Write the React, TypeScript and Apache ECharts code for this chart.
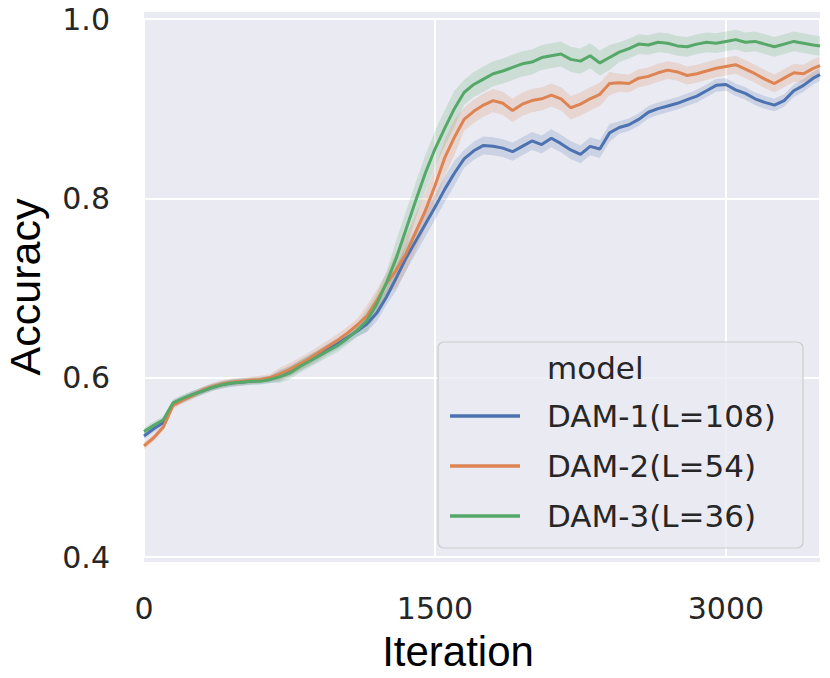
import React, { useEffect, useRef } from "react";
import * as echarts from "echarts";

const iterations = [
  0, 50, 100, 150, 200, 250, 300, 350, 400, 450,
  500, 550, 600, 650, 700, 750, 800, 850, 900, 950,
  1000, 1050, 1100, 1150, 1200, 1250, 1300, 1350, 1400, 1450,
  1500, 1550, 1600, 1650, 1700, 1750, 1800, 1850, 1900, 1950,
  2000, 2050, 2100, 2150, 2200, 2250, 2300, 2350, 2400, 2450,
  2500, 2550, 2600, 2650, 2700, 2750, 2800, 2850, 2900, 2950,
  3000, 3050, 3100, 3150, 3200, 3250, 3300, 3350, 3400, 3450,
  3485,
];

const dam1 = [
  0.535, 0.543, 0.55, 0.571, 0.576, 0.581, 0.585, 0.589, 0.592, 0.594,
  0.595, 0.596, 0.597, 0.598, 0.602, 0.607, 0.613, 0.619, 0.625, 0.632,
  0.638, 0.645, 0.652, 0.66, 0.672, 0.69, 0.711, 0.733, 0.752, 0.771,
  0.79, 0.81, 0.828, 0.844, 0.853, 0.859, 0.858, 0.856, 0.852, 0.858,
  0.864, 0.86, 0.867, 0.861, 0.854, 0.849, 0.858, 0.855, 0.873, 0.879,
  0.882, 0.888, 0.896, 0.9, 0.903, 0.906, 0.91, 0.914, 0.92, 0.926,
  0.927, 0.921, 0.917, 0.911, 0.907, 0.904, 0.909, 0.92, 0.926, 0.934,
  0.938,
];

const dam2 = [
  0.524, 0.533, 0.545, 0.569, 0.575, 0.58, 0.586, 0.59, 0.593, 0.595,
  0.596, 0.597, 0.598, 0.6, 0.604, 0.609, 0.615, 0.621, 0.628, 0.635,
  0.642, 0.65, 0.659, 0.669, 0.686, 0.705, 0.72, 0.738, 0.762, 0.786,
  0.814, 0.845, 0.868, 0.888, 0.897, 0.904, 0.909, 0.906, 0.898, 0.905,
  0.909, 0.911, 0.915, 0.911, 0.901, 0.905, 0.911, 0.916, 0.928, 0.929,
  0.928, 0.934, 0.936, 0.94, 0.943, 0.941, 0.937, 0.939, 0.942, 0.945,
  0.947, 0.949, 0.944, 0.939, 0.933, 0.928, 0.934, 0.94, 0.939, 0.945,
  0.948,
];

const dam3 = [
  0.54, 0.547, 0.553, 0.572, 0.577, 0.581, 0.585, 0.589, 0.592, 0.594,
  0.595, 0.596, 0.596, 0.598, 0.601, 0.605, 0.612, 0.618, 0.624, 0.63,
  0.636, 0.644, 0.653, 0.664, 0.682, 0.706, 0.733, 0.765, 0.797, 0.828,
  0.855, 0.878, 0.9, 0.918, 0.927, 0.933, 0.939, 0.942, 0.946, 0.95,
  0.952, 0.957, 0.959, 0.961, 0.955, 0.953, 0.959, 0.951, 0.957, 0.963,
  0.967, 0.972, 0.971, 0.974, 0.973, 0.97, 0.969, 0.972, 0.974, 0.973,
  0.975, 0.977, 0.974, 0.975, 0.972, 0.969, 0.972, 0.975, 0.973, 0.971,
  0.97,
];

// half-widths of the confidence bands
const ci1 = [
  0.004, 0.004, 0.004, 0.004, 0.004, 0.004, 0.004, 0.004, 0.004, 0.004,
  0.004, 0.004, 0.004, 0.004, 0.006, 0.006, 0.006, 0.006, 0.006, 0.006,
  0.006, 0.006, 0.006, 0.009, 0.009, 0.009, 0.014, 0.014, 0.014, 0.014,
  0.014, 0.014, 0.014, 0.01, 0.01, 0.01, 0.01, 0.01, 0.01, 0.01,
  0.01, 0.01, 0.01, 0.01, 0.01, 0.01, 0.01, 0.01, 0.01, 0.007,
  0.007, 0.007, 0.007, 0.007, 0.007, 0.007, 0.007, 0.007, 0.007, 0.007,
  0.007, 0.007, 0.007, 0.007, 0.007, 0.007, 0.007, 0.007, 0.007, 0.007,
  0.007,
];
const ci2 = [
  0.004, 0.004, 0.004, 0.004, 0.004, 0.004, 0.004, 0.004, 0.004, 0.004,
  0.004, 0.004, 0.004, 0.004, 0.007, 0.007, 0.007, 0.007, 0.007, 0.007,
  0.007, 0.007, 0.007, 0.012, 0.012, 0.012, 0.02, 0.02, 0.02, 0.02,
  0.02, 0.02, 0.02, 0.013, 0.013, 0.013, 0.013, 0.013, 0.013, 0.013,
  0.013, 0.013, 0.013, 0.013, 0.013, 0.013, 0.013, 0.013, 0.013, 0.01,
  0.01, 0.01, 0.01, 0.01, 0.01, 0.01, 0.01, 0.01, 0.01, 0.01,
  0.01, 0.01, 0.01, 0.01, 0.01, 0.01, 0.01, 0.01, 0.01, 0.01,
  0.01,
];
const ci3 = [
  0.004, 0.004, 0.004, 0.004, 0.004, 0.004, 0.004, 0.004, 0.004, 0.004,
  0.004, 0.004, 0.004, 0.004, 0.007, 0.007, 0.007, 0.007, 0.007, 0.007,
  0.007, 0.007, 0.007, 0.012, 0.012, 0.012, 0.02, 0.02, 0.02, 0.02,
  0.02, 0.02, 0.02, 0.014, 0.014, 0.014, 0.014, 0.014, 0.014, 0.014,
  0.014, 0.014, 0.014, 0.014, 0.014, 0.014, 0.014, 0.014, 0.014, 0.011,
  0.011, 0.011, 0.011, 0.011, 0.011, 0.011, 0.011, 0.011, 0.011, 0.011,
  0.011, 0.011, 0.011, 0.011, 0.011, 0.011, 0.011, 0.011, 0.011, 0.011,
  0.011,
];

const seriesNames = ["DAM-1(L=108)", "DAM-2(L=54)", "DAM-3(L=36)"];
const seriesValues = [dam1, dam2, dam3];
const seriesCI = [ci1, ci2, ci3];
const colors = ["#4C72B0", "#DD8452", "#55A868"];
const bandColors = ["rgba(76,114,176,0.2)", "rgba(221,132,82,0.2)", "rgba(85,168,104,0.2)"];
const xTicks = [0, 1500, 3000];
const yTicks = [0.4, 0.6, 0.8, 1.0];
const legendTitle = "model";
const xTitle = "Iteration";
const yTitle = "Accuracy";

const TICK_FONT = "DejaVu Sans";
const TITLE_FONT = "Liberation Sans, Arial, sans-serif";

export default function App() {
  const ref = useRef<HTMLDivElement>(null);

  useEffect(() => {
    if (!ref.current) return;
    const chart = echarts.init(ref.current, null, { renderer: "svg", width: 830, height: 678 });

    const bandSeries = seriesValues.map((vals, s) => ({
      type: "custom",
      name: seriesNames[s] + " band",
      silent: true,
      z: 2,
      data: [[iterations[0], vals[0]]],
      encode: { x: 0, y: 1 },
      renderItem: (_params: any, api: any) => {
        const ci = seriesCI[s];
        const pts: number[][] = [];
        for (let i = 0; i < iterations.length; i++) {
          pts.push(api.coord([iterations[i], vals[i] + ci[i]]));
        }
        for (let i = iterations.length - 1; i >= 0; i--) {
          pts.push(api.coord([iterations[i], vals[i] - ci[i]]));
        }
        return {
          type: "polygon",
          shape: { points: pts },
          style: { fill: bandColors[s], stroke: "none" },
        };
      },
    }));

    const lineSeries = seriesValues.map((vals, s) => ({
      type: "line",
      name: seriesNames[s],
      data: iterations.map((x, i) => [x, vals[i]]),
      showSymbol: false,
      symbol: "none",
      z: 3,
      lineStyle: { color: colors[s], width: 3 },
      itemStyle: { color: colors[s] },
    }));

    const legendItems: any[] = [];
    seriesNames.forEach((name, s) => {
      const cy = 416 + s * 50;
      legendItems.push({
        type: "line",
        z: 11,
        shape: { x1: 450, y1: cy, x2: 520, y2: cy },
        style: { stroke: colors[s], lineWidth: 3.5 },
      });
      legendItems.push({
        type: "text",
        z: 11,
        x: 547,
        y: cy,
        style: {
          text: name,
          fill: "#262626",
          font: `31px '${TICK_FONT}'`,
          align: "left",
          verticalAlign: "middle",
        },
      });
    });

    const option: any = {
      animation: false,
      backgroundColor: "#ffffff",
      grid: {
        left: 144,
        right: 10,
        top: 19,
        bottom: 121,
        containLabel: false,
        outerBoundsMode: "none",
      },
      xAxis: {
        type: "value",
        min: 0,
        max: 3485,
        interval: 1500,
        axisLine: { show: false },
        axisTick: { show: false },
        splitLine: { show: true, lineStyle: { color: "#ffffff", width: 2 } },
        axisLabel: {
          fontSize: 30,
          fontFamily: TICK_FONT,
          color: "#262626",
          margin: 36,
          formatter: (v: number) => (xTicks.includes(v) ? String(v) : ""),
        },
      },
      yAxis: {
        type: "value",
        min: 0.4,
        max: 1.0,
        interval: 0.2,
        axisLine: { show: false },
        axisTick: { show: false },
        splitLine: { show: true, lineStyle: { color: "#ffffff", width: 2 } },
        axisLabel: {
          fontSize: 30,
          fontFamily: TICK_FONT,
          color: "#262626",
          margin: 34,
          formatter: (v: number) => {
            const hit = yTicks.find((t) => Math.abs(t - v) < 1e-6);
            return hit !== undefined ? hit.toFixed(1) : "";
          },
        },
      },
      graphic: [
        {
          type: "rect",
          z: -10,
          silent: true,
          shape: { x: 144, y: 12, width: 676, height: 550 },
          style: { fill: "#EAEAF2" },
        },
        {
          type: "rect",
          z: 10,
          silent: true,
          shape: { x: 438, y: 342, width: 365, height: 206, r: 6 },
          style: { fill: "rgba(234,234,242,0.8)", stroke: "#cccccc", lineWidth: 1.2 },
        },
        {
          type: "text",
          z: 11,
          x: 547,
          y: 368,
          style: {
            text: legendTitle,
            fill: "#262626",
            font: `31px '${TICK_FONT}'`,
            align: "left",
            verticalAlign: "middle",
          },
        },
        ...legendItems,
        {
          type: "text",
          x: 458,
          y: 651,
          style: {
            text: xTitle,
            fill: "#000000",
            font: `42px ${TITLE_FONT}`,
            align: "center",
            verticalAlign: "middle",
          },
        },
        {
          type: "text",
          x: 25,
          y: 287,
          rotation: Math.PI / 2,
          style: {
            text: yTitle,
            fill: "#000000",
            font: `43px ${TITLE_FONT}`,
            align: "center",
            verticalAlign: "middle",
          },
        },
      ],
      series: [...bandSeries, ...lineSeries],
    };

    chart.setOption(option);
    return () => chart.dispose();
  }, []);

  return (
    <div
      ref={ref}
      style={{ position: "absolute", left: 0, top: 0, width: 830, height: 678 }}
    />
  );
}
